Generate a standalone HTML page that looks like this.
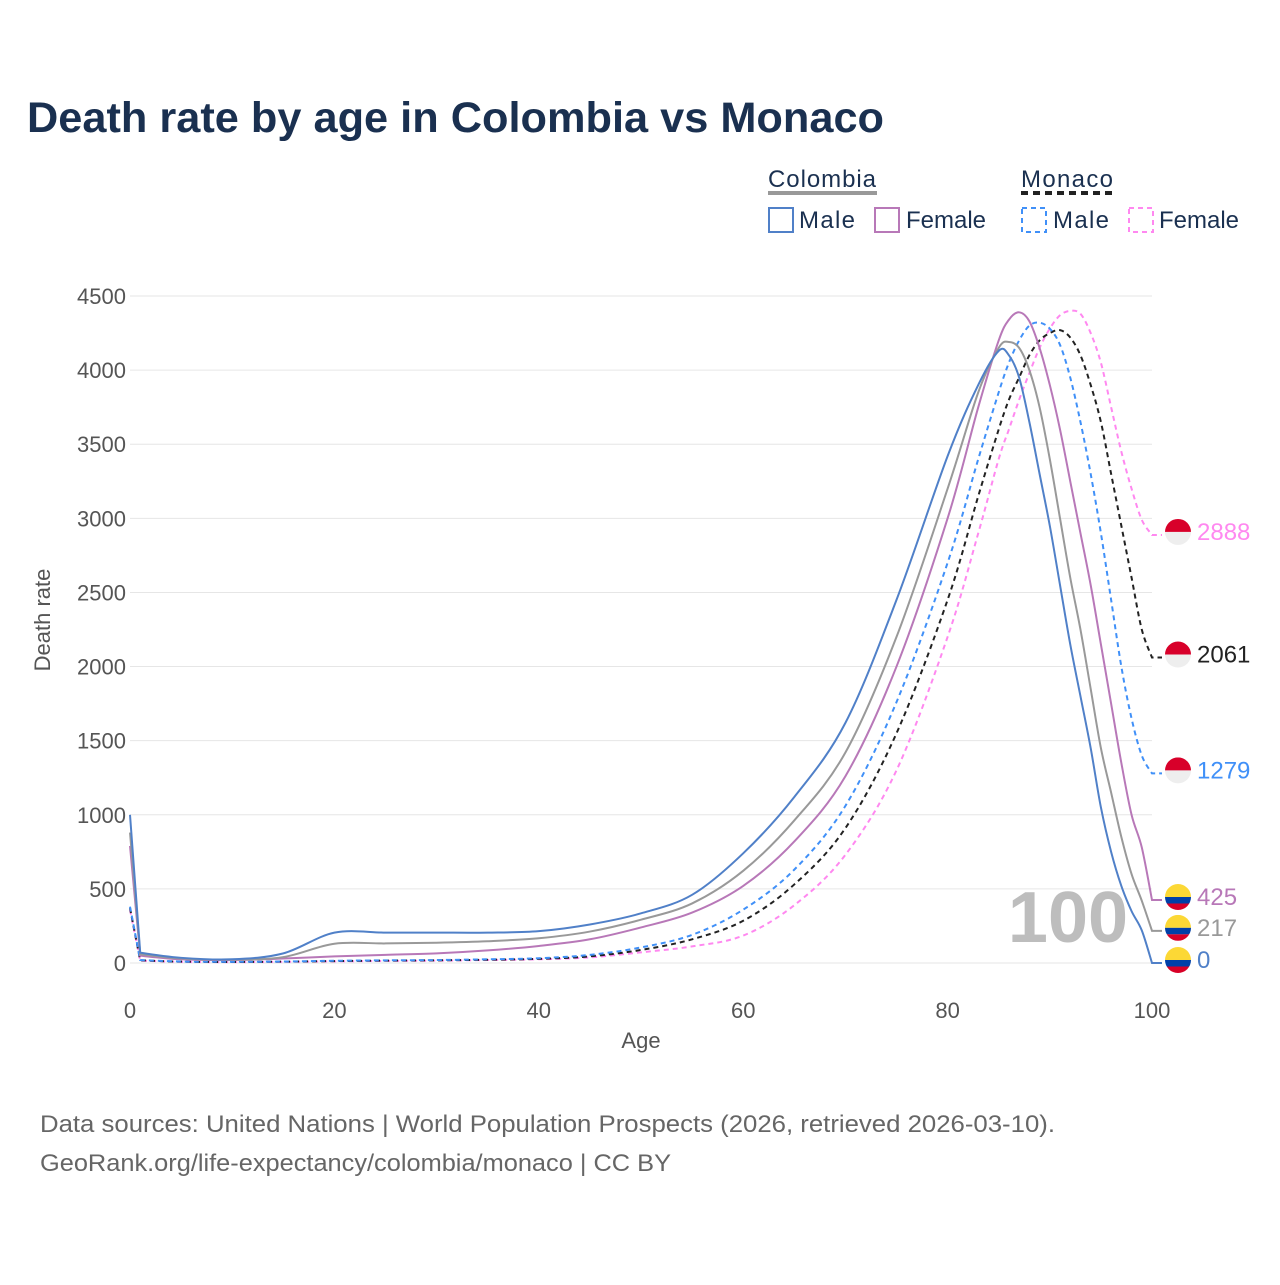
<!DOCTYPE html>
<html><head><meta charset="utf-8">
<style>
body{margin:0;background:#fff;font-family:"Liberation Sans",sans-serif;}
svg text{font-family:"Liberation Sans",sans-serif;}
</style></head>
<body>
<svg id="chart" width="1280" height="1280" viewBox="0 0 1280 1280" xmlns="http://www.w3.org/2000/svg">
<text x="27" y="132" font-size="43" font-weight="bold" fill="#1a3050" textLength="857" lengthAdjust="spacingAndGlyphs">Death rate by age in Colombia vs Monaco</text>
<g>
 <text x="768" y="187" font-size="24" fill="#1a3050" textLength="108">Colombia</text>
 <line x1="768" y1="193" x2="877" y2="193" stroke="#999" stroke-width="4"/>
 <text x="1021" y="187" font-size="24" fill="#1a3050" textLength="92">Monaco</text>
 <line x1="1021" y1="193" x2="1113" y2="193" stroke="#222" stroke-width="4" stroke-dasharray="7,5"/>
 <g><rect x="769" y="208" width="24" height="24" fill="none" stroke="#5080c8" stroke-width="2"/><text x="799" y="228" font-size="24" fill="#1a3050" textLength="56">Male</text></g>
 <g><rect x="875" y="208" width="24" height="24" fill="none" stroke="#b878b8" stroke-width="2"/><text x="906" y="228" font-size="24" fill="#1a3050" textLength="80">Female</text></g>
 <g><rect x="1022" y="208" width="24" height="24" fill="none" stroke="#4090f8" stroke-width="2" stroke-dasharray="5,4"/><text x="1053" y="228" font-size="24" fill="#1a3050" textLength="56">Male</text></g>
 <g><rect x="1129" y="208" width="24" height="24" fill="none" stroke="#ff88f0" stroke-width="2" stroke-dasharray="5,4"/><text x="1159" y="228" font-size="24" fill="#1a3050" textLength="80">Female</text></g>
</g>
<g id="grid"></g>
<g id="yticks"></g>
<g id="xticks"></g>
<text transform="translate(50,620) rotate(-90)" text-anchor="middle" font-size="22" fill="#555">Death rate</text>
<text x="641" y="1048" text-anchor="middle" font-size="22" fill="#555">Age</text>
<text x="1068" y="942" text-anchor="middle" font-size="72" font-weight="bold" fill="#bdbdbd">100</text>
<g id="lines"></g>
<g id="labels"></g>
<text x="40" y="1132" font-size="24" fill="#666" textLength="1015" lengthAdjust="spacingAndGlyphs">Data sources: United Nations | World Population Prospects (2026, retrieved 2026-03-10).</text>
<text x="40" y="1171" font-size="24" fill="#666" textLength="631" lengthAdjust="spacingAndGlyphs">GeoRank.org/life-expectancy/colombia/monaco | CC BY</text>
</svg>
<script>
const ages = [0,1,5,10,15,20,25,30,35,40,45,50,55,60,65,70,75,80,83,85,86,87,88,89,90,91,92,93,94,95,96,97,98,99,100];
const colMale =   [1000,70,35,25,65,205,205,205,205,215,260,335,460,740,1120,1620,2450,3420,3900,4130,4100,3950,3650,3300,2950,2550,2150,1800,1450,1050,750,520,350,220,0];
const colBoth =   [880,60,30,22,40,130,132,137,147,167,212,292,402,622,962,1420,2200,3200,3850,4150,4190,4150,4000,3750,3400,3000,2600,2250,1850,1450,1150,850,600,420,217];
const colFemale = [790,50,25,20,30,45,55,65,85,115,160,240,340,520,820,1260,2000,3000,3750,4200,4340,4390,4330,4150,3900,3600,3250,2900,2550,2150,1750,1350,1000,780,425];
const monMale =   [380,20,10,8,10,15,18,20,25,32,55,105,190,360,630,1060,1760,2700,3400,3850,4050,4200,4300,4320,4280,4170,3950,3650,3300,2900,2450,2000,1650,1400,1279];
const monBoth =   [370,18,9,7,9,13,16,18,22,28,45,88,160,285,530,910,1550,2450,3150,3600,3800,3950,4100,4200,4250,4270,4220,4100,3900,3650,3300,2950,2600,2250,2061];
const monFemale = [360,16,8,6,8,11,14,16,20,25,38,72,112,185,390,730,1300,2200,2900,3400,3600,3800,3980,4150,4280,4370,4400,4380,4250,4050,3750,3450,3200,2990,2888];
const yTicks = [0,500,1000,1500,2000,2500,3000,3500,4000,4500];
const xTicks = [0,20,40,60,80,100];

const X = a => 130 + a * 10.22;
const Y = v => 963 - v * 0.14822;
const NS = "http://www.w3.org/2000/svg";
function mk(tag, attrs, parent){const e=document.createElementNS(NS,tag);for(const k in attrs)e.setAttribute(k,attrs[k]);parent.appendChild(e);return e;}
const grid=document.getElementById('grid'), yt=document.getElementById('yticks'), xt=document.getElementById('xticks');
yTicks.forEach(v=>{
  const l=mk('line',{x1:130,x2:1152,y1:Y(v),y2:Y(v),stroke:'#e6e6e6','stroke-width':1},grid);
  
  
  const t=mk('text',{x:126,y:Y(v)+8,'text-anchor':'end','font-size':22,fill:'#555'},yt);
  
  
  t.textContent=v;
});
xTicks.forEach(a=>{
  const t=mk('text',{x:X(a),y:1018,'text-anchor':'middle','font-size':22,fill:'#555'},xt);
  
  
  t.textContent=a;
});
function pathD(vals){
  const p=ages.map((a,i)=>[X(a),Y(vals[i])]);
  let d='M'+p[0][0]+','+p[0][1]+' L'+p[1][0]+','+p[1][1];
  for(let i=1;i<p.length-1;i++){
    const p0=p[Math.max(0,i-1)],p1=p[i],p2=p[i+1],p3=p[Math.min(p.length-1,i+2)];
    const t=(i===1)?0:1/6;
    const c1=[p1[0]+(p2[0]-p0[0])*t,p1[1]+(p2[1]-p0[1])*t];
    const t2=1/6;
    const c2=[p2[0]-(p3[0]-p1[0])*t2,p2[1]-(p3[1]-p1[1])*t2];
    d+=' C'+c1[0]+','+c1[1]+' '+c2[0]+','+c2[1]+' '+p2[0]+','+p2[1];
  }
  const last=p[p.length-1];
  d+=' L'+(last[0]+10)+','+last[1];
  return d;
}
const series=[
  {name:'monaco-female',vals:monFemale,color:'#ff88f0',dash:'5,4',flag:'mc'},
  {name:'monaco-both',vals:monBoth,color:'#222',dash:'5,4',flag:'mc'},
  {name:'monaco-male',vals:monMale,color:'#4090f8',dash:'5,4',flag:'mc'},
  {name:'colombia-female',vals:colFemale,color:'#b878b8',dash:'',flag:'co'},
  {name:'colombia-both',vals:colBoth,color:'#999',dash:'',flag:'co'},
  {name:'colombia-male',vals:colMale,color:'#5080c8',dash:'',flag:'co'}
];
const lines=document.getElementById('lines'), labels=document.getElementById('labels');
series.forEach(s=>{
  const p=mk('path',{d:pathD(s.vals),fill:'none',stroke:s.color,'stroke-width':2,'stroke-dasharray':s.dash},lines);
  
  
  const v=s.vals[s.vals.length-1], cy=Y(v)-3, cx=1178;
  const g=mk('g',{},labels);
  
  
  const id='clip-'+s.name;
  const cp=mk('clipPath',{id:id},g); mk('circle',{cx:cx,cy:cy,r:13},cp);
  const fg=mk('g',{'clip-path':'url(#'+id+')'},g);
  if(s.flag==='mc'){
    mk('rect',{x:cx-13,y:cy-13,width:26,height:13,fill:'#d8002a'},fg);
    mk('rect',{x:cx-13,y:cy,width:26,height:13,fill:'#eeeeee'},fg);
  }else{
    mk('rect',{x:cx-13,y:cy-13,width:26,height:13,fill:'#fcd835'},fg);
    mk('rect',{x:cx-13,y:cy,width:26,height:6.5,fill:'#0040a8'},fg);
    mk('rect',{x:cx-13,y:cy+6.5,width:26,height:6.5,fill:'#d80027'},fg);
  }
  const t=mk('text',{x:1197,y:cy+8,'font-size':24,fill:s.color},g);
  t.textContent=v;
});
</script>
</body></html>
